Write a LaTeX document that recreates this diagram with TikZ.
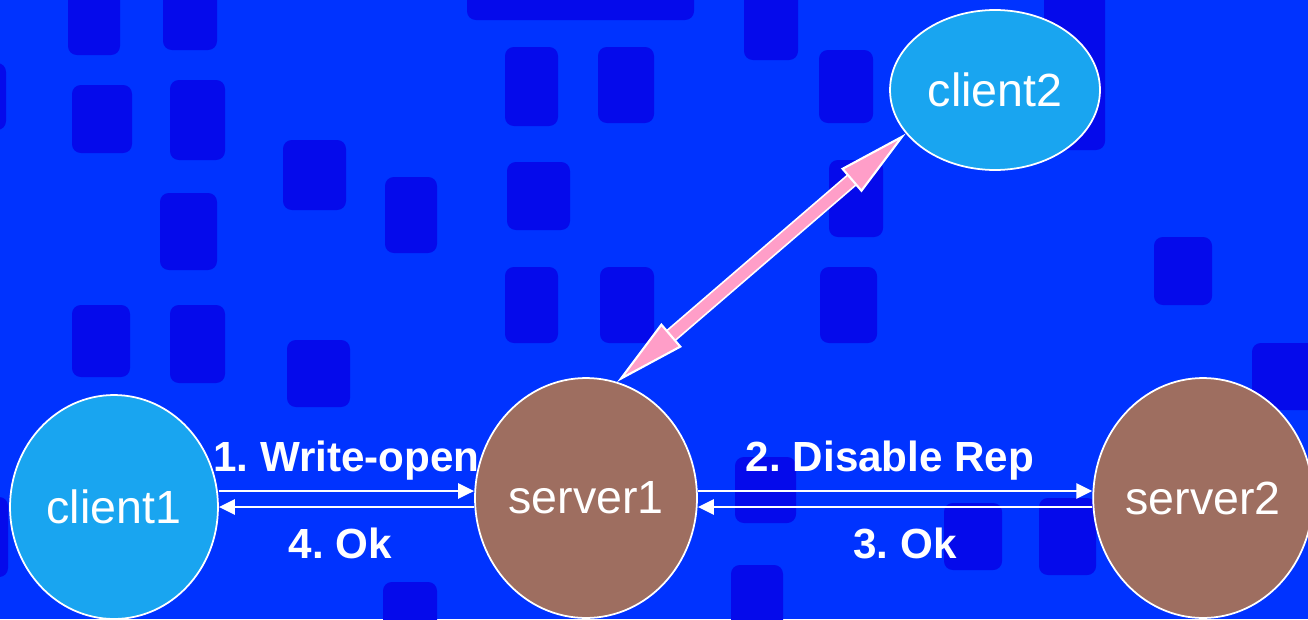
\documentclass[tikz,border=0pt]{standalone}
\usepackage{fontspec}
\setmainfont{Liberation Sans}
\usetikzlibrary{shapes.geometric,arrows.meta}
\definecolor{backblue}{RGB}{0,51,255}
\definecolor{tileblue}{RGB}{5,10,235}
\definecolor{clientcyan}{RGB}{25,165,240}
\definecolor{serverbrown}{RGB}{158,110,96}
\definecolor{linkpink}{RGB}{255,158,200}
\frenchspacing

\begin{document}
\begin{tikzpicture}[x=0.02cm, y=-0.02cm,
    host/.style={ellipse, draw=white, line width=1pt, text=white, inner sep=0pt, font=\fontsize{26.5}{30}\selectfont},
    client/.style={host, fill=clientcyan},
    server/.style={host, fill=serverbrown},
    msg/.style={draw=white, line width=1.5pt, -{Triangle[length=0.32cm, width=0.3cm]}},
    lbl/.style={text=white, inner sep=2pt, font=\fontsize{24}{28}\selectfont\bfseries},
    tile/.style={fill=tileblue, rounded corners=5pt},
    linkhead/.tip={Triangle[length=1.44cm, width=0.62cm, color=white, fill=linkpink, line width=1.2pt]},
    link/.style={linkpink, line width=0.22cm, linkhead-linkhead}
]
    \useasboundingbox (0,0) rectangle (1308,619);
    \clip (0,0) rectangle (1308,619);
    \fill[backblue] (0,0) rectangle (1308,619);

    % dark tiles of the backdrop
    \foreach \xa/\ya/\xb/\yb in {68/-10/120/55, 163/-10/217/50, 467/-10/694/20, 744/-10/798/60,
        1044/-10/1105/150, 72/85/132/153, 170/80/225/160, 283/140/346/210, 160/193/217/270,
        385/177/437/253, 505/47/558/126, 598/47/654/123, 507/162/570/230, 505/267/558/343,
        600/267/654/343, 819/50/873/123, 829/160/883/237, 820/267/877/343, 1154/237/1212/305,
        72/305/130/377, 170/305/225/383, 287/340/350/407, 1252/343/1320/410, 735/457/796/523,
        944/503/1002/570, 1039/498/1096/575, 731/565/783/630, 383/582/437/630,
        -20/63/6/130, -20/497/8/577}
        \fill[tile] (\xa,\ya) rectangle (\xb,\yb);

    \node[client, minimum width=4.16cm, minimum height=4.48cm] (client1) at (114,507) {client1};
    \node[server, minimum width=4.44cm, minimum height=4.8cm] (server1) at (586,498) {server1};
    \node[server, minimum width=4.2cm, minimum height=4.8cm] (server2) at (1203,498) {server2};
    \node[client, minimum width=4.2cm, minimum height=3.2cm] (client2) at (995,90) {client2};

    \coordinate (a1) at ([yshift=0.14cm]server1.west);
    \coordinate (a2) at ([yshift=-0.18cm]server1.west);
    \coordinate (b1) at ([yshift=0.14cm]server2.west);
    \coordinate (b2) at ([yshift=-0.18cm]server2.west);

    \draw[msg] (client1.east |- a1) -- (a1) node[lbl, midway, above=0.11cm] {1. Write-open};
    \draw[msg] (a2) -- (client1.east |- a2) node[lbl, midway, below=0.33cm, xshift=-0.12cm] {4. Ok};
    \draw[msg] (server1.east |- b1) -- (b1) node[lbl, midway, above=0.11cm, xshift=-0.1cm] {2. Disable Rep};
    \draw[msg] (b2) -- (server1.east |- b2) node[lbl, midway, below=0.33cm, xshift=0.2cm] {3. Ok};

    \draw[white, line width=0.29cm, shorten <=1.3cm, shorten >=1.3cm] (server1.75) -- (client2.206);
    \draw[link] (server1.75) -- (client2.206);
\end{tikzpicture}
\end{document}
